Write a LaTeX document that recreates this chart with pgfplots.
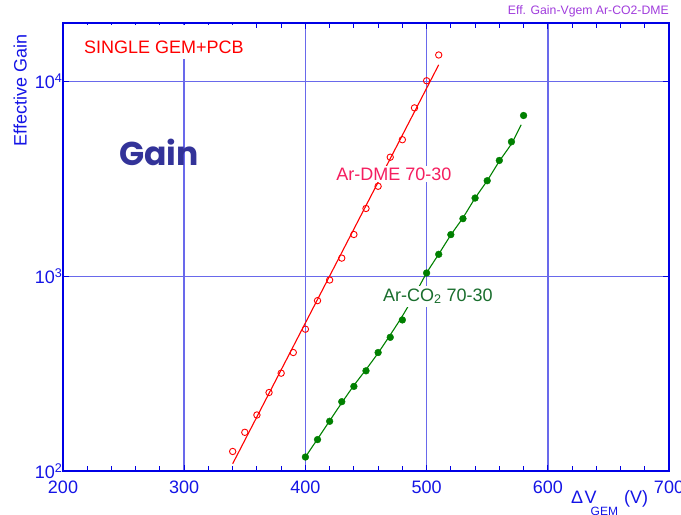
\documentclass[border=0pt]{standalone}
\usepackage{pgfplots}
\pgfplotsset{compat=1.18}
\usepackage{fontspec}
\setmainfont{Liberation Sans}
\newfontfamily\gainfont{Poppins}
\definecolor{axblue}{RGB}{0,0,230}
\definecolor{gridblue}{RGB}{105,105,235}
\definecolor{tickblue}{RGB}{20,20,230}
\definecolor{dmered}{RGB}{255,0,0}
\definecolor{dmelabel}{RGB}{245,30,95}
\definecolor{cogreen}{RGB}{0,128,0}
\definecolor{colabel}{RGB}{25,110,45}
\definecolor{gainblue}{RGB}{51,51,153}
\definecolor{titlepurple}{RGB}{160,60,220}
\begin{document}
\begin{tikzpicture}
\begin{axis}[
  set layers,
  scale only axis, width=606pt, height=448pt,
  xmin=200, xmax=700, ymin=100, ymax=20000, ymode=log, log basis y=10,
  xtick={200,300,...,700}, xticklabels={200,300,400,500,600,700},
  minor x tick num=4,
  ytick={100,1000,10000},
  yticklabels={10\textsuperscript{2},10\textsuperscript{3},10\textsuperscript{4}},
  axis line style={axblue, line width=2pt},
  tick style={axblue, line width=1pt},
  major tick length=6pt, minor tick length=5pt,
  tick align=inside,
  xmajorgrids, ymajorgrids,
  major grid style={gridblue, line width=1.6pt},
  tick label style={font=\fontsize{18}{21}\selectfont, text=tickblue},
  xticklabel style={yshift=-6pt},
  yticklabel style={xshift=3pt},
  clip=false,
]
% Ar-DME fit line
\addplot[dmered, line width=1.1pt] coordinates {(340,109) (510,12200)};
% Ar-DME data
\addplot[only marks, mark=o, mark size=3.2pt, dmered, mark options={line width=0.9pt}] coordinates {
(340,126) (350,158) (360,194) (370,253) (380,318) (390,406) (400,535) (410,750)
(420,957) (430,1240) (440,1640) (450,2230) (460,2900) (470,4090) (480,5030)
(490,7330) (500,10100) (510,13700)};
% Ar-CO2 fit line
\addplot[cogreen, line width=1.1pt, smooth] coordinates {
(400,118) (410,146) (420,181) (430,224) (440,275) (450,332) (460,404) (470,500)
(480,625) (490,800) (500,1040) (510,1300) (520,1630) (530,2000) (540,2520)
(550,3100) (560,3900) (570,4800) (578,6000)};
% Ar-CO2 data
\addplot[only marks, mark=*, mark size=3.4pt, cogreen, mark options={fill=cogreen}] coordinates {
(400,118) (410,145) (420,180) (430,227) (440,272) (450,327) (460,406) (470,486)
(480,597) (490,790) (500,1040) (510,1297) (520,1637) (530,1977) (540,2523)
(550,3097) (560,3936) (570,4908) (580,6698)};
\begin{pgfonlayer}{axis foreground}
\node[text=dmered, fill=white, anchor=base, inner xsep=3pt, inner ysep=0pt,
  text height=29pt, text depth=5pt, font=\fontsize{18}{21}\selectfont]
  at (axis cs:283.3,13930) {SINGLE GEM+PCB};
\node[text=dmelabel, fill=white, anchor=base, inner xsep=3pt, inner ysep=1.5pt,
  font=\fontsize{18}{21}\selectfont] at (axis cs:473.1,3105) {Ar-DME 70-30};
\node[text=colabel, fill=white, anchor=base, inner sep=3pt,
  font=\fontsize{18}{21}\selectfont] at (axis cs:509.4,746) {Ar-CO\textsubscript{2} 70-30};
\node[text=gainblue, anchor=base, font=\gainfont\bfseries\fontsize{33}{38}\selectfont]
  at (axis cs:279.2,3707) {Gain};
\end{pgfonlayer}
\coordinate (SW) at (rel axis cs:0,0);
\coordinate (NE) at (rel axis cs:1,1);
\coordinate (YL) at (rel axis cs:0,0.850);
\end{axis}
\node[anchor=base, rotate=90, inner sep=0pt, text=tickblue, font=\fontsize{18}{21}\selectfont]
  at ([xshift=-36.3pt]YL) {Effective Gain};
\node[anchor=base east, inner sep=0pt, text=titlepurple, font=\fontsize{12.25}{14}\selectfont]
  at ([yshift=8pt]NE) {Eff. Gain-Vgem Ar-CO2-DME};
\node[anchor=base west, inner sep=0pt, text=tickblue, font=\fontsize{18}{21}\selectfont]
  at ([xshift=508pt,yshift=-32pt]SW) {Δ\kern1.5pt V\kern-6pt\raisebox{-12pt}{\fontsize{12}{12}\selectfont GEM}\kern6pt(V)};
\pgfresetboundingbox
\path[use as bounding box] ([shift={(-63pt,-43pt)}]SW) rectangle ([shift={(12pt,23pt)}]NE);
\end{tikzpicture}
\end{document}
